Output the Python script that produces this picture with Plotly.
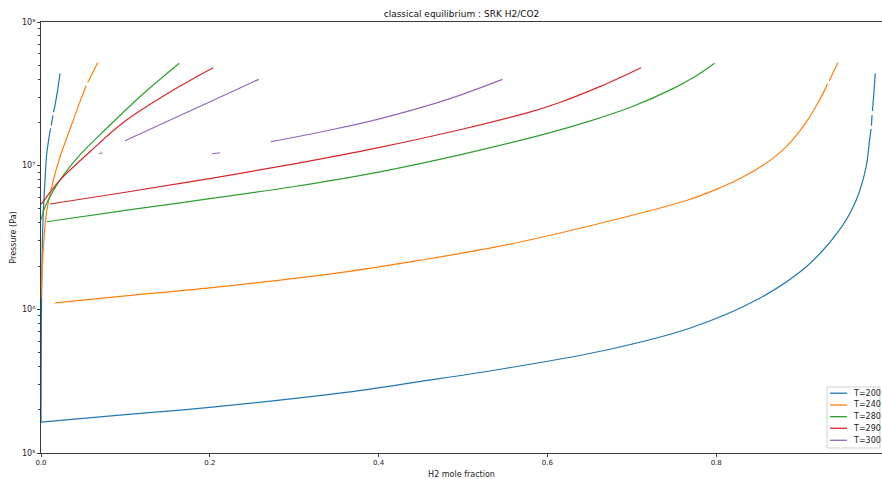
import plotly.graph_objects as go

# Temperatures (K) and matching colours
temperatures = [200, 240, 280, 290, 300]
colors = ["#1f77b4", "#ff7f0e", "#2ca02c", "#d62728", "#9467bd"]

# Bubble (liquid) and dew (vapour) branches, H2 mole fraction vs pressure (Pa).
# None marks points where the equilibrium solver did not converge.
x_liq_200 = [0.0, 0.0004, 0.0012, 0.0025, 0.0045, 0.0067, 0.0090, 0.0107, 0.0115, None,
             0.0121, 0.0142, None, 0.0149, 0.0166, 0.0195, 0.0225]
p_liq_200 = [1.64e5, 8.0e5, 2.2e6, 4.4e6, 7.5e6, 1.19e7, 1.5e7, 1.73e7, 1.82e7, None,
             1.9e7, 2.24e7, None, 2.36e7, 2.63e7, 3.3e7, 4.4e7]
x_vap_200 = [0.0, 0.1, 0.2, 0.354, 0.45, 0.5514, 0.67, 0.7685, 0.8475, 0.9067, 0.9461,
             0.9659, 0.9777, 0.9817, 0.9835, None, 0.9839, 0.9846, None, 0.9850, 0.9866, 0.9884]
p_vap_200 = [1.64e5, 1.85e5, 2.08e5, 2.61e5, 3.15e5, 3.89e5, 5.21e5, 7.38e5, 1.16e6, 1.98e6, 3.57e6,
             5.77e6, 9.9e6, 1.51e7, 1.80e7, None, 1.9e7, 2.25e7, None, 2.4e7, 3.1e7, 4.4e7]

x_liq_240 = [0.0, 0.0027, 0.0067, 0.0146, 0.0225, 0.0304, 0.0385, 0.0462, 0.0535, None,
             0.0553, 0.0610, 0.0671]
p_liq_240 = [1.2e6, 2.6e6, 4.8e6, 7.9e6, 1.15e7, 1.55e7, 2.1e7, 2.79e7, 3.6e7, None,
             3.8e7, 4.4e7, 5.2e7]
x_vap_240 = [0.0166, 0.1, 0.2, 0.354, 0.45, 0.5514, 0.67, 0.7665, 0.80, 0.83, 0.855, 0.875,
             0.89, 0.905, 0.92, 0.9322, None, 0.9338, 0.944]
p_vap_240 = [1.11e6, 1.24e6, 1.41e6, 1.8e6, 2.2e6, 2.81e6, 4.07e6, 5.77e6, 6.84e6, 8.24e6, 1.002e7, 1.227e7,
             1.50e7, 1.945e7, 2.698e7, 3.724e7, None, 3.89e7, 5.2e7]

x_liq_280 = [0.0, 0.005, 0.0225, 0.0462, 0.0778, 0.1172, 0.1638]
p_liq_280 = [4.2e6, 5.2e6, 7.94e6, 1.19e7, 1.82e7, 3.02e7, 5.16e7]
x_vap_280 = [0.0067, 0.1, 0.2, 0.3, 0.4, 0.5, 0.6, 0.65, 0.7, 0.75, 0.775, 0.798]
p_vap_280 = [4.07e6, 4.88e6, 5.89e6, 7.16e6, 9.02e6, 1.202e7, 1.679e7, 2.042e7, 2.57e7, 3.467e7,
             4.169e7, 5.16e7]

x_liq_290 = [0.0, 0.0047, 0.0225, 0.058, 0.0975, 0.1567, 0.204]
p_liq_290 = [5.36e6, 5.85e6, 7.94e6, 1.25e7, 2.0e7, 3.36e7, 4.81e7]
x_vap_290 = [0.0107, 0.1, 0.2, 0.3, 0.4, 0.5, 0.58, 0.6146, 0.662, 0.711]
p_vap_290 = [5.41e6, 6.53e6, 8.13e6, 1.028e7, 1.334e7, 1.799e7, 2.371e7, 2.754e7, 3.548e7, 4.81e7]

x_liq_300 = [0.069, 0.073, None, 0.0995, 0.1764, 0.258]
p_liq_300 = [1.21e7, 1.23e7, None, 1.49e7, 2.4e7, 3.99e7]
x_vap_300 = [0.2025, 0.212, None, 0.2724, 0.34, 0.401, 0.480, 0.5467]
p_vap_300 = [1.21e7, 1.23e7, None, 1.469e7, 1.758e7, 2.118e7, 2.871e7, 3.99e7]

branches = {
    200: [(x_liq_200, p_liq_200), (x_vap_200, p_vap_200)],
    240: [(x_liq_240, p_liq_240), (x_vap_240, p_vap_240)],
    280: [(x_liq_280, p_liq_280), (x_vap_280, p_vap_280)],
    290: [(x_liq_290, p_liq_290), (x_vap_290, p_vap_290)],
    300: [(x_liq_300, p_liq_300), (x_vap_300, p_vap_300)],
}

x_ticks = [0.0, 0.2, 0.4, 0.6, 0.8]
y_ticks = [1e5, 1e6, 1e7, 1e8]
y_tick_text = ["10⁵", "10⁶", "10⁷", "10⁸"]
y_minor = [m * 10 ** e for e in (5, 6, 7) for m in range(2, 10)]

FONT = "DejaVu Sans"
AXIS_COLOR = "#3a3a3a"
TEXT_COLOR = "#222222"

fig = go.Figure()
for T, color in zip(temperatures, colors):
    for xs, ps in branches[T]:
        fig.add_trace(go.Scatter(
            x=xs, y=ps, mode="lines",
            line=dict(color=color, width=1.2, shape="spline", smoothing=1.0),
            name=f"T={T}", showlegend=False, connectgaps=False,
        ))

# Compact legend box in the lower-right corner of the axes (paper coordinates)
legend_box = dict(x0=0.9346, x1=0.9976, y0=0.0116, y1=0.1531)
legend_rows = [0.1387, 0.1114, 0.0843, 0.0574, 0.0295]
shapes = [dict(type="rect", xref="paper", yref="paper", **legend_box,
               line=dict(color="#d0d0d0", width=1), fillcolor="rgba(255,255,255,0.85)", layer="above")]
annotations = []
for T, color, row in zip(temperatures, colors, legend_rows):
    shapes.append(dict(type="line", xref="paper", yref="paper", x0=0.9382, x1=0.9584, y0=row, y1=row,
                       line=dict(color=color, width=1.3), layer="above"))
    annotations.append(dict(text=f"T={T}", xref="paper", yref="paper", x=0.9630, y=row,
                            xanchor="left", yanchor="middle", showarrow=False,
                            font=dict(family=FONT, size=8, color=TEXT_COLOR)))

fig.update_layout(
    width=882, height=479,
    margin=dict(l=41, r=0, t=22, b=26),
    paper_bgcolor="white", plot_bgcolor="white",
    font=dict(family=FONT, size=7, color=TEXT_COLOR),
    title=dict(text="classical equilibrium : SRK H2/CO2", x=0.5, xref="paper",
               y=1 - 14 / 479, yref="container", yanchor="middle", xanchor="center",
               font=dict(family=FONT, size=9, color="#111111")),
    showlegend=False,
    shapes=shapes,
    annotations=annotations,
)

fig.update_xaxes(
    range=[0, 0.9964], tickvals=x_ticks, ticktext=[f"{v:.1f}" for v in x_ticks],
    showgrid=False, zeroline=False, showline=True, linecolor=AXIS_COLOR, linewidth=1,
    mirror=True, ticks="outside", ticklen=3, tickwidth=0.8, tickcolor=AXIS_COLOR,
    tickfont=dict(family=FONT, size=7, color=TEXT_COLOR),
    title=dict(text="H2 mole fraction", standoff=4, font=dict(family=FONT, size=8, color=TEXT_COLOR)),
)
fig.update_yaxes(
    type="log", range=[5, 8], tickvals=y_ticks, ticktext=y_tick_text,
    showgrid=False, zeroline=False, showline=True, linecolor=AXIS_COLOR, linewidth=1,
    ticks="outside", ticklen=3, tickwidth=0.8, tickcolor=AXIS_COLOR,
    tickfont=dict(family=FONT, size=8, color=TEXT_COLOR),
    minor=dict(tickvals=y_minor, ticks="outside", ticklen=1.8, tickwidth=0.6, tickcolor=AXIS_COLOR),
    title=dict(text="Pressure (Pa)", standoff=4, font=dict(family=FONT, size=8, color=TEXT_COLOR)),
)

fig.write_html("out.html")
